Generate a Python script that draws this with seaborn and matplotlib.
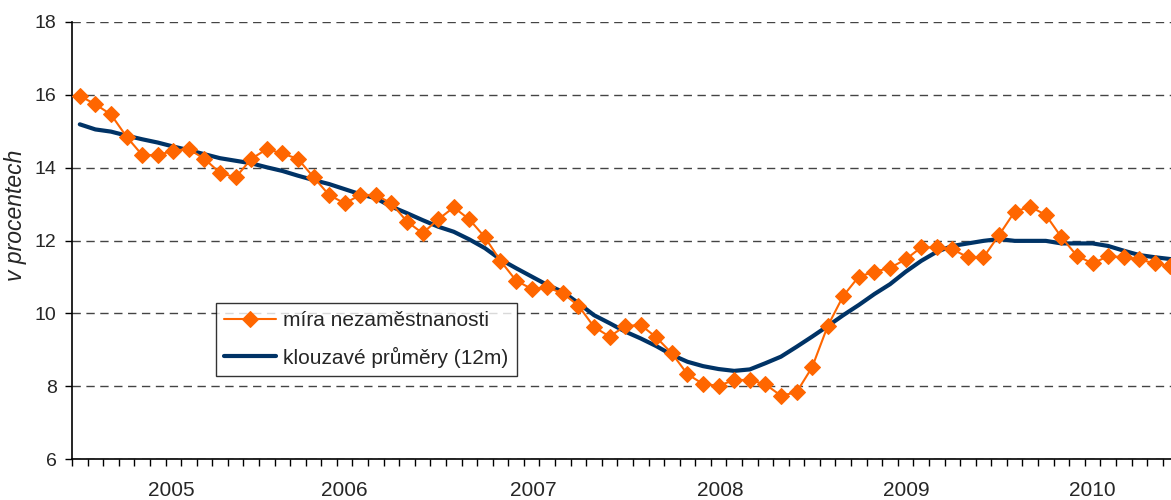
import numpy as np
import pandas as pd
import matplotlib
matplotlib.use("Agg")
import matplotlib.pyplot as plt
import seaborn as sns

# monthly data, Jan 2005 .. Nov 2010
rate = [15.97, 15.74, 15.46, 14.85, 14.35, 14.34, 14.47, 14.51, 14.24, 13.86, 13.73, 14.24,
        14.51, 14.39, 14.24, 13.74, 13.25, 13.02, 13.25, 13.25, 13.02, 12.52, 12.20, 12.58,
        12.91, 12.58, 12.09, 11.44, 10.90, 10.67, 10.71, 10.55, 10.21, 9.63, 9.36, 9.65,
        9.68, 9.34, 8.90, 8.33, 8.06, 8.01, 8.17, 8.17, 8.05, 7.74, 7.83, 8.52,
        9.65, 10.48, 11.01, 11.14, 11.25, 11.48, 11.81, 11.81, 11.76, 11.54, 11.54, 12.15,
        12.79, 12.93, 12.70, 12.09, 11.58, 11.37, 11.57, 11.54, 11.48, 11.37, 11.30]
moving_avg = [15.19, 15.05, 14.99, 14.88, 14.78, 14.69, 14.58, 14.48, 14.37, 14.26, 14.19, 14.12,
              14.01, 13.91, 13.78, 13.66, 13.55, 13.41, 13.27, 13.16, 12.93, 12.75, 12.56, 12.38,
              12.24, 12.03, 11.79, 11.48, 11.24, 11.01, 10.78, 10.59, 10.28, 9.95, 9.73, 9.50,
              9.31, 9.10, 8.86, 8.67, 8.55, 8.47, 8.42, 8.46, 8.63, 8.81, 9.08, 9.36,
              9.65, 9.95, 10.23, 10.53, 10.80, 11.14, 11.44, 11.69, 11.85, 11.92, 11.99, 12.04,
              11.99, 11.99, 11.99, 11.92, 11.92, 11.92, 11.85, 11.72, 11.60, 11.54, 11.49]
years = ["2005", "2006", "2007", "2008", "2009", "2010"]
year_label_pos = [5.9, 17.0, 29.1, 41.1, 53.05, 65.0]

df = pd.DataFrame({"m": np.arange(len(rate)), "rate": rate, "avg": moving_avg})

sns.set_style("white")
plt.rcParams["font.family"] = ["Liberation Sans", "DejaVu Sans"]

fig = plt.figure(figsize=(11.71, 5), dpi=100)
ax = fig.add_axes([0.0615, 0.082, 0.9447, 0.874])

sns.lineplot(data=df, x="m", y="rate", ax=ax, color="#FF6600", linewidth=1.5,
             marker="D", markersize=8.5, markeredgecolor="#FF6600",
             label="míra nezaměstnanosti", zorder=3)
sns.lineplot(data=df, x="m", y="avg", ax=ax, color="#003366", linewidth=3,
             label="klouzavé průměry (12m)", zorder=2)

ax.set_xlim(-0.5, 70.5)
ax.set_ylim(6, 18)
ax.set_yticks(np.arange(6, 19, 2))
ax.yaxis.grid(True, color="#444444", linestyle=(0, (6, 4)), linewidth=1)
ax.set_axisbelow(True)

ax.set_xticks(year_label_pos)
ax.set_xticklabels(years)
ax.set_xticks(np.arange(-0.5, 71, 1), minor=True)
ax.tick_params(axis="x", which="major", length=0, pad=16, labelsize=15)
ax.tick_params(axis="x", which="minor", direction="out", length=5, width=1, color="black", bottom=True)
ax.tick_params(axis="y", direction="out", length=5, width=1, color="black", left=True, labelsize=14, pad=6)

for s in ["top", "right"]:
    ax.spines[s].set_visible(False)
for s in ["left", "bottom"]:
    ax.spines[s].set_color("black")
    ax.spines[s].set_linewidth(1.2)

ax.set_xlabel("")
ax.set_ylabel("v procentech", fontsize=16.5, fontstyle="italic")
ax.yaxis.set_label_coords(-0.0407, 0.558)

leg = ax.legend(loc="upper left", bbox_to_anchor=(215.7 / 1171, 1 - 302.7 / 500),
                bbox_transform=fig.transFigure, fontsize=15, frameon=True, fancybox=False,
                handlelength=2.5, handletextpad=0.35, labelspacing=0.8, borderpad=0.4,
                borderaxespad=0)
leg.get_frame().set_edgecolor("black")
leg.get_frame().set_linewidth(1)

fig.savefig("out.png", dpi=100)
